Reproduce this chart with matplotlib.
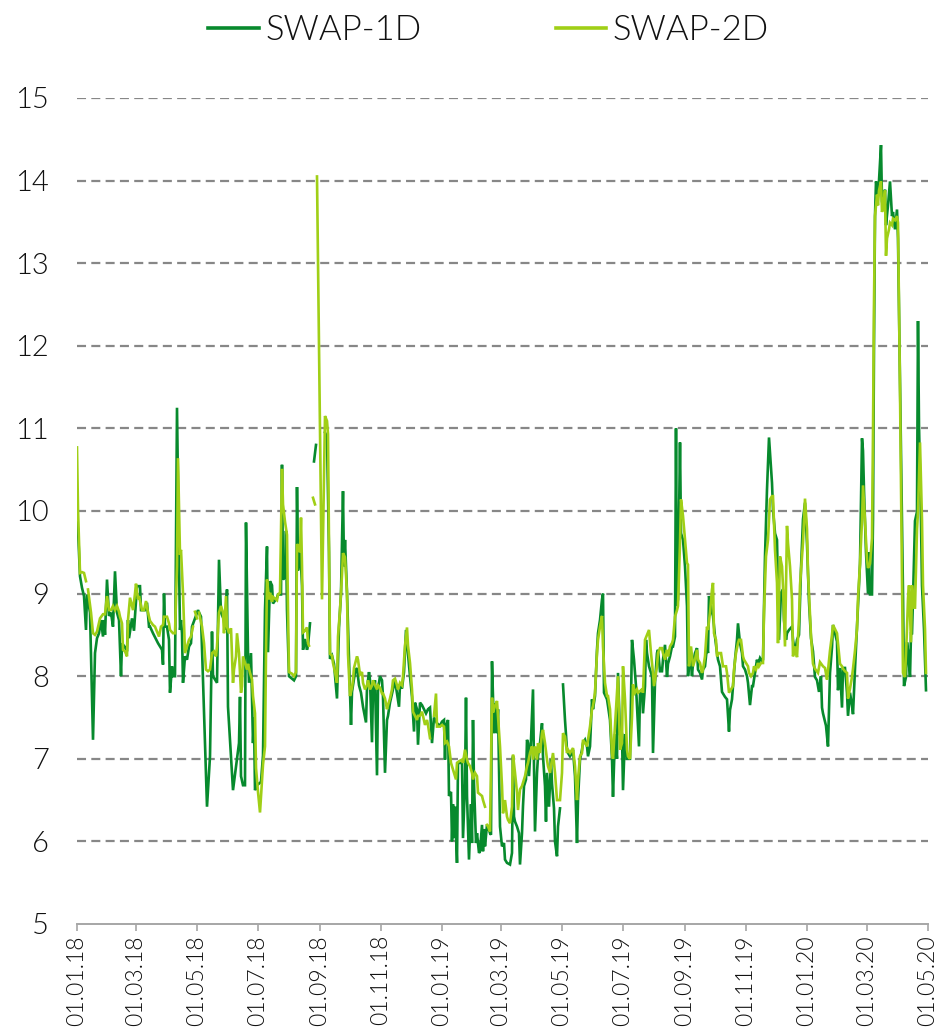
import numpy as np
import pandas as pd
import matplotlib
matplotlib.use("Agg")
import matplotlib.pyplot as plt

plt.rcParams['font.family'] = ['Lato', 'DejaVu Sans']
plt.rcParams['lines.scale_dashes'] = False

nan = np.nan
start = pd.Timestamp('2018-01-01')
end = pd.Timestamp('2020-05-01')

# (days since 01.01.18, rate) -- nan marks missing quotes
swap_1d_points = [
    (0, 9.86), (1, 9.78), (3, 9.21), (5, 9.07), (7, 8.97), (9, 8.56), (10, 8.99), (13, 8.77), (16, 7.23), (18, 8.28),
    (20, 8.46), (22, 8.52), (24, 8.68), (26, 8.48), (27, 8.68), (28, 8.50), (30, 9.17), (32, 8.73), (34, 8.77), (36, 8.60),
    (38, 9.27), (40, 8.77), (42, 8.68), (44, 8.00), (45, 8.40), (48, 8.35), (50, 8.30), (51, 8.68), (52, 8.46), (55, 8.70),
    (57, 8.55), (60, 9.09), (63, 9.09), (64, 8.80), (68, 8.80), (70, 8.89), (72, 8.60), (73, 8.60), (76, 8.52), (81, 8.40),
    (85, 8.32), (86, 8.14), (87, 9.00), (88, 8.60), (90, 8.60), (92, 8.44), (93, 7.80), (95, 8.12), (96, 8.00), (98, 8.00),
    (100, 11.25), (102, 9.37), (103, 8.56), (104, 8.68), (105, 8.52), (106, 7.92), (108, 8.24), (110, 8.20), (112, 8.36), (114, 8.40),
    (115, 8.60), (121, 8.80), (124, 8.72), (128, 7.17), (130, 6.42), (133, 7.03), (135, 8.54), (136, 8.00), (138, 7.96), (140, 7.92),
    (142, 9.41), (144, 8.77), (147, 8.68), (148, 8.56), (150, 9.05), (151, 7.63), (156, 6.62), (162, 7.19), (163, 7.75), (164, 6.79),
    (166, 6.68), (168, 6.68), (169, 9.86), (171, 8.28), (172, 7.92), (174, 8.28), (176, 7.19), (177, 7.50), (178, 6.62), (180, 6.68),
    (182, 6.70), (184, 6.72), (186, 7.04), (188, 8.80), (190, 9.57), (191, 8.29), (193, 9.15), (195, 9.10), (196, 8.88), (200, 8.95),
    (201, 8.99), (204, 8.99), (205, 10.56), (206, 9.17), (208, 9.20), (209, 9.76), (210, 8.80), (212, 8.00), (215, 7.97), (217, 7.95),
    (219, 8.00), (220, 10.29), (221, 9.28), (223, 9.60), (225, 9.10), (226, 8.32), (228, 8.45), (230, 8.32), (231, 8.37), (233, 8.64),
    (235, nan), (237, 10.60), (239, 10.80), (243, nan), (248, 10.95), (250, 10.90), (252, 9.50), (253, 8.21), (255, 8.25), (257, 8.15),
    (260, 7.73), (262, 8.59), (264, 9.00), (266, 10.24), (267, 9.33), (268, 9.65), (270, 9.01), (272, 8.20), (273, 7.84), (274, 7.41),
    (275, 7.81), (278, 8.05), (280, 8.10), (282, 7.89), (284, 7.80), (286, 7.63), (289, 7.44), (290, 7.85), (292, 8.05), (293, 7.95),
    (295, 7.20), (296, 7.84), (298, 7.95), (300, 6.80), (301, 7.84), (303, 8.00), (305, 7.95), (306, 7.75), (308, 6.83), (310, 7.47),
    (311, 7.52), (313, 7.68), (316, 7.84), (318, 7.95), (320, 7.79), (322, 7.63), (323, 7.90), (325, 7.85), (327, 8.05), (329, 8.56),
    (331, 8.27), (333, 8.00), (335, 7.75), (337, 7.33), (338, 7.68), (340, 7.60), (341, 7.17), (343, 7.68), (345, 7.65), (347, 7.60),
    (349, 7.55), (351, 7.60), (353, 7.62), (355, 7.19), (357, 7.50), (360, 7.43), (363, 7.40), (365, 7.45), (367, 7.47), (368, 6.99),
    (369, 7.40), (371, 7.47), (372, 6.55), (374, 6.60), (375, 6.00), (376, 6.45), (377, 6.04), (378, 6.42), (380, 5.74), (381, 6.95),
    (383, 6.95), (385, 6.95), (386, 6.04), (388, 6.70), (389, 7.74), (390, 6.55), (392, 5.78), (394, 6.45), (395, 5.98), (396, 7.47),
    (397, 6.70), (399, 5.98), (400, 6.10), (402, 5.86), (403, 5.88), (405, 6.20), (406, 5.88), (407, 6.15), (408, 5.94), (410, 6.20),
    (411, 6.18), (413, 6.10), (414, 6.08), (415, 8.18), (417, 7.31), (418, 7.67), (420, 7.31), (421, 7.60), (423, 6.18), (425, 5.94),
    (427, 5.98), (428, 5.78), (430, 5.74), (433, 5.72), (435, 5.86), (436, 7.03), (437, 6.30), (438, 6.24), (440, 6.18), (442, 6.10),
    (443, 5.72), (445, 6.10), (446, 6.43), (447, 6.67), (449, 6.75), (450, 7.23), (451, 7.19), (452, 6.79), (454, 7.23), (456, 7.84),
    (457, 6.91), (458, 6.12), (460, 6.83), (461, 7.03), (463, 7.19), (465, 7.43), (466, 7.03), (468, 6.67), (469, 6.24), (470, 6.83),
    (472, 6.42), (474, 6.99), (475, 6.70), (477, 6.40), (478, 6.00), (480, 5.82), (481, 6.18), (483, 6.40), (484, nan), (486, 7.90),
    (488, 7.47), (490, 7.11), (491, 7.07), (493, 7.03), (495, 7.07), (496, 7.11), (498, 6.79), (500, 5.98), (501, 6.50), (503, 6.99),
    (505, 7.11), (506, 7.19), (508, 7.23), (510, 7.15), (511, 7.03), (513, 7.15), (515, 7.72), (516, 7.60), (518, 7.76), (520, 8.32),
    (521, 8.52), (523, 8.68), (525, 8.93), (526, 9.00), (527, 7.80), (530, 7.72), (531, 7.64), (533, 7.47), (535, 7.00), (536, 6.54),
    (538, 7.30), (540, 7.00), (541, 8.04), (543, 7.30), (545, 7.30), (546, 6.62), (548, 7.30), (550, 7.00), (551, 7.00), (553, 7.00),
    (555, 8.44), (557, 8.20), (559, 7.88), (560, 7.63), (562, 7.15), (563, 7.80), (565, 7.84), (566, 7.55), (568, 7.88), (569, 8.44),
    (570, 8.28), (572, 8.12), (575, 8.00), (576, 7.07), (578, 7.92), (580, 8.28), (581, 8.32), (583, 8.06), (585, 8.06), (586, 8.20),
    (588, 8.38), (590, 7.99), (591, 8.15), (593, 8.24), (595, 8.36), (596, 8.36), (598, 8.48), (599, 11.00), (600, 8.85), (601, 8.93),
    (603, 10.83), (604, 9.73), (606, 9.65), (608, 9.33), (610, 8.85), (611, 8.00), (613, 8.28), (615, 8.00), (616, 8.16), (618, 8.28),
    (620, 8.34), (621, 8.08), (623, 8.04), (625, 7.96), (626, 8.08), (628, 8.12), (630, 8.36), (631, 8.28), (632, 8.97), (634, 8.85),
    (635, 8.77), (636, 8.73), (638, 8.48), (640, 8.28), (641, 8.20), (643, 8.12), (645, 7.81), (646, 7.79), (648, 7.75), (650, 7.72),
    (652, 7.33), (653, 7.59), (655, 7.72), (656, 7.88), (658, 8.20), (660, 8.44), (661, 8.64), (663, 8.40), (665, 8.28), (666, 8.12),
    (668, 8.08), (670, 8.00), (671, 7.92), (673, 7.65), (675, 7.88), (676, 7.88), (678, 8.04), (680, 8.20), (681, 8.14), (683, 8.22),
    (685, 8.18), (686, 8.20), (688, 9.45), (690, 10.26), (692, 10.89), (695, 10.34), (696, 10.02), (698, 9.73), (700, 9.65), (701, 9.05),
    (702, 8.44), (704, 9.01), (706, 9.05), (707, 8.68), (709, 8.44), (710, 8.52), (712, 8.56), (715, 8.60), (716, 8.44), (718, 8.28),
    (720, 8.44), (722, 8.50), (724, 9.30), (726, 9.90), (728, 10.10), (730, 9.60), (732, 8.90), (734, 8.46), (736, 8.30), (738, 7.99),
    (740, 7.95), (742, 7.81), (744, 8.00), (745, 7.62), (746, 7.55), (749, 7.40), (751, 7.15), (753, 8.04), (755, 8.35), (756, 8.62),
    (758, 8.52), (760, 8.42), (761, 7.83), (763, 8.10), (765, 7.62), (766, 8.10), (768, 8.10), (770, 7.80), (771, 7.52), (773, 7.80),
    (775, 7.64), (776, 7.54), (778, 8.09), (780, 8.60), (781, 8.83), (783, 9.36), (785, 10.88), (786, 10.73), (787, 10.25), (789, 9.50),
    (791, 9.00), (792, 9.50), (793, 8.99), (795, 8.99), (796, 9.90), (797, 12.00), (798, 13.57), (799, 13.99), (801, 13.83), (802, 14.00),
    (804, 14.43), (805, 13.75), (806, 13.68), (808, 13.89), (809, 13.46), (811, 13.70), (813, 13.99), (815, 13.57), (816, 13.62), (818, 13.41),
    (820, 13.65), (821, 13.30), (826, 9.00), (827, 7.88), (829, 7.99), (830, 8.41), (831, 8.31), (833, 7.99), (834, 8.52), (835, 8.52),
    (836, 8.94), (838, 9.88), (840, 9.99), (841, 12.30), (842, 11.04), (844, 9.88), (845, 9.10), (847, 8.57), (849, 7.83),
]

swap_2d_points = [
    (0, 10.77), (1, 10.02), (3, 9.25), (5, 9.26), (7, 9.25), (9, 9.15), (10, nan), (11, 9.05), (14, 8.77), (16, 8.52),
    (18, 8.50), (20, 8.54), (23, 8.70), (26, 8.75), (28, 8.75), (30, 8.97), (32, 8.80), (34, 8.80), (36, 8.85), (38, 8.80),
    (40, 8.85), (42, 8.78), (43, 8.72), (45, 8.64), (46, 8.32), (48, 8.30), (50, 8.24), (51, 8.68), (53, 8.95), (55, 8.85),
    (56, 8.80), (58, 9.00), (59, 9.12), (61, 8.93), (62, 8.97), (65, 8.80), (67, 8.80), (69, 8.91), (71, 8.77), (73, 8.67),
    (76, 8.62), (78, 8.60), (80, 8.54), (82, 8.48), (84, 8.60), (86, 8.62), (87, 8.72), (90, 8.72), (92, 8.64), (93, 8.56),
    (96, 8.52), (98, 8.52), (100, 9.33), (101, 10.64), (103, 9.47), (104, 9.53), (106, 9.00), (108, 8.28), (110, 8.36), (112, 8.44),
    (114, 8.48), (116, 8.60), (117, nan), (118, 8.78), (120, 8.70), (121, nan), (122, 8.77), (125, 8.60), (127, 8.40), (129, 8.08),
    (131, 8.06), (133, 8.08), (135, 8.28), (137, 8.30), (139, 8.24), (140, 8.36), (142, 8.77), (144, 8.85), (146, 8.77), (147, 8.52),
    (149, 8.97), (150, 8.60), (152, 8.52), (154, 8.58), (156, 7.92), (157, 8.08), (159, 8.24), (160, 8.52), (162, 8.28), (164, 7.80),
    (165, 7.88), (166, 8.24), (168, 8.16), (170, 8.08), (171, 8.15), (173, 8.04), (175, 7.96), (176, 7.76), (178, 7.55), (179, 6.89),
    (181, 6.60), (183, 6.35), (186, 6.93), (188, 7.15), (189, 8.27), (190, 9.17), (192, 8.93), (193, 9.01), (195, 8.90), (196, 8.96),
    (198, 8.94), (200, 8.92), (201, 8.99), (203, 9.01), (205, 10.51), (206, 10.08), (208, 9.87), (210, 9.71), (211, 8.80), (212, 8.05),
    (215, 8.03), (217, 8.00), (219, 8.05), (220, 9.60), (222, 9.55), (223, 9.50), (224, 9.92), (225, 9.33), (226, 8.53), (228, 8.55),
    (230, 8.59), (231, 8.40), (232, 8.37), (234, nan), (236, 10.16), (238, 10.08), (239, nan), (240, 14.05), (245, 8.93), (248, 11.15),
    (250, 11.09), (251, 10.93), (253, 8.27), (255, 8.25), (256, 8.16), (258, 8.05), (260, 7.92), (261, 8.48), (263, 8.80), (265, 9.23),
    (266, 9.49), (268, 9.44), (270, 9.01), (271, 8.27), (273, 7.76), (275, 7.86), (276, 7.95), (277, 8.10), (280, 8.24), (281, 8.20),
    (283, 8.02), (285, 8.05), (286, 7.92), (288, 7.84), (290, 7.89), (291, 7.95), (293, 7.84), (295, 7.89), (296, 7.95), (298, 7.89),
    (300, 7.84), (301, 7.89), (303, 7.86), (305, 7.79), (306, 7.79), (308, 7.73), (310, 7.60), (311, 7.65), (313, 7.73), (315, 7.84),
    (316, 7.95), (318, 7.97), (320, 7.89), (321, 7.84), (323, 7.92), (325, 7.89), (326, 8.00), (328, 8.37), (330, 8.59), (331, 8.37),
    (333, 8.16), (335, 7.84), (336, 7.57), (338, 7.52), (340, 7.47), (341, 7.52), (343, 7.52), (345, 7.57), (346, 7.52), (348, 7.41),
    (350, 7.47), (351, 7.41), (353, 7.25), (355, nan), (357, 7.52), (359, 7.79), (360, 7.39), (363, 7.39), (365, 7.41), (367, 7.39),
    (368, 7.19), (370, 7.21), (372, 7.15), (374, 6.95), (375, 6.91), (377, 6.83), (379, 6.75), (380, 6.95), (382, 6.97), (385, 6.99),
    (386, 6.95), (388, 7.11), (390, 6.99), (391, 6.95), (393, 6.91), (395, 6.83), (396, 6.75), (398, 6.83), (400, 6.79), (401, 6.59),
    (403, 6.57), (405, 6.55), (406, 6.50), (408, 6.42), (409, nan), (410, 6.20), (411, 6.18), (413, 6.12), (415, 7.74), (416, 7.56),
    (418, 7.64), (420, 7.70), (421, 7.52), (423, 7.15), (425, 6.67), (426, 6.34), (428, 6.50), (430, 6.30), (431, 6.26), (433, 6.22),
    (435, 6.42), (436, 7.05), (438, 6.83), (440, 6.59), (441, 6.38), (443, 6.63), (445, 6.67), (446, 6.71), (448, 6.79), (450, 6.91),
    (451, 6.95), (453, 7.07), (455, 7.15), (456, 6.99), (458, 7.15), (460, 6.99), (461, 7.19), (463, 7.07), (465, 7.31), (466, 7.35),
    (468, 7.19), (470, 6.99), (471, 6.91), (473, 6.83), (475, 6.99), (476, 7.07), (478, 6.83), (480, 6.50), (481, 6.50), (483, 6.50),
    (485, 6.83), (486, 7.31), (488, 7.27), (490, 7.07), (491, 7.11), (493, 7.07), (495, 7.11), (496, 7.13), (498, 6.91), (500, 6.50),
    (501, 6.75), (503, 7.03), (505, 7.07), (506, 7.23), (508, 7.19), (510, 7.15), (511, 7.23), (513, 7.39), (515, 7.60), (516, 7.64),
    (518, 7.80), (520, 8.28), (521, 8.44), (523, 8.60), (525, 8.73), (526, 8.36), (528, 7.92), (530, 7.76), (531, 7.76), (533, 7.60),
    (535, 7.07), (536, 7.00), (538, 7.40), (540, 7.80), (541, 8.00), (543, 7.11), (545, 7.19), (546, 8.12), (548, 7.72), (550, 7.11),
    (551, 7.03), (553, 7.00), (555, 7.51), (556, 7.90), (558, 7.80), (560, 7.84), (561, 7.80), (563, 7.82), (565, 7.84), (566, 7.80),
    (568, 8.44), (570, 8.50), (572, 8.56), (574, 8.28), (576, 8.04), (577, 7.88), (580, 8.12), (581, 8.28), (583, 8.34), (585, 8.34),
    (586, 8.28), (588, 8.20), (590, 8.32), (591, 8.24), (593, 8.36), (595, 8.40), (596, 8.44), (598, 8.72), (600, 8.80), (601, 8.85),
    (603, 9.61), (604, 10.14), (606, 9.94), (608, 9.65), (610, 9.37), (611, 9.35), (612, 8.12), (614, 8.36), (616, 8.12), (618, 8.20),
    (620, 8.32), (621, 8.20), (623, 8.16), (625, 8.04), (626, 8.08), (628, 8.24), (630, 8.60), (631, 8.56), (633, 8.77), (635, 9.05),
    (636, 9.13), (637, 8.52), (639, 8.44), (640, 8.24), (642, 8.28), (644, 8.28), (646, 8.12), (647, 8.12), (649, 8.12), (650, 8.04),
    (652, 7.80), (654, 7.84), (656, 7.88), (657, 8.08), (659, 8.28), (661, 8.40), (662, 8.44), (664, 8.44), (666, 8.24), (667, 8.20),
    (669, 8.16), (671, 8.12), (672, 8.04), (674, 8.00), (676, 8.04), (677, 8.12), (679, 8.08), (681, 8.16), (682, 8.12), (684, 8.16),
    (686, 8.16), (687, 8.77), (689, 9.45), (691, 9.65), (693, 10.14), (695, 10.18), (696, 10.18), (698, 9.53), (700, 9.13), (701, 8.40),
    (703, 9.45), (705, 9.33), (706, 9.09), (708, 8.36), (710, 9.82), (711, 9.61), (713, 9.33), (715, 8.93), (716, 8.24), (718, 8.36),
    (720, 8.23), (722, 8.70), (723, 9.10), (726, 9.62), (728, 10.15), (730, 9.78), (731, 9.25), (734, 8.49), (736, 8.15), (738, 8.09),
    (741, 8.04), (743, 8.17), (746, 8.12), (748, 8.10), (750, 7.96), (751, 8.07), (753, 8.31), (755, 8.50), (756, 8.62), (758, 8.57),
    (760, 8.52), (761, 8.40), (763, 8.15), (765, 8.12), (766, 8.09), (768, 8.06), (770, 8.04), (771, 7.73), (773, 7.85), (775, 7.99),
    (776, 8.09), (778, 8.31), (780, 8.57), (781, 8.94), (783, 9.36), (785, 9.88), (786, 10.31), (788, 9.88), (790, 9.41), (791, 9.31),
    (793, 9.36), (795, 9.67), (796, 10.94), (797, 12.52), (798, 13.57), (800, 13.83), (801, 13.70), (802, 13.88), (804, 13.99), (805, 13.62),
    (806, 13.67), (808, 13.88), (809, 13.09), (810, 13.30), (812, 13.41), (813, 13.49), (815, 13.46), (816, 13.54), (818, 13.52), (820, 13.57),
    (821, 13.49), (823, 11.46), (826, 8.04), (828, 7.99), (830, 8.57), (831, 8.94), (832, 9.10), (834, 8.41), (835, 9.10), (837, 8.83),
    (838, 8.83), (840, 9.78), (841, 9.99), (843, 10.83), (845, 9.88), (846, 9.10), (848, 8.57), (849, 8.04),
]

series_names = ['SWAP-1D', 'SWAP-2D']
series_colors = ['#078a2d', '#a0cf16']
y_ticks = list(range(5, 16))
tick_dates = pd.date_range('2018-01-01', '2020-05-01', freq='2MS')
tick_labels = [d.strftime('%d.%m.%y') for d in tick_dates]

TEXT_COLOR = '#111111'
TEXT_WEIGHT = 300


def to_xy(points):
    days, vals = zip(*points)
    dates = start + pd.to_timedelta(np.array(days), unit='D')
    return dates, np.array(vals, dtype=float)


fig = plt.figure(figsize=(9.4, 10.34), dpi=100)
ax = fig.add_axes([77 / 940, 1 - 924 / 1034, 851 / 940, 826 / 1034])

for pts, name, col in zip([swap_1d_points, swap_2d_points], series_names, series_colors):
    x, y = to_xy(pts)
    ax.plot(x, y, color=col, lw=1.9, label=name, solid_joinstyle='miter')

ax.set_xlim(start, end)
ax.set_ylim(5, 15)
ax.set_yticks(y_ticks)
ax.set_yticklabels([str(t) for t in y_ticks], fontsize=21, fontweight=TEXT_WEIGHT,
                   color=TEXT_COLOR)
ax.set_xticks(tick_dates)
ax.set_xticklabels(tick_labels, rotation=90, fontsize=16.5, fontweight=TEXT_WEIGHT,
                   color=TEXT_COLOR)

ax.set_axisbelow(True)
for yv in y_ticks[1:]:
    ax.axhline(yv, color='#878787', lw=1.6, dashes=(6.5, 3.8), zorder=0)

for s in ['top', 'right', 'left']:
    ax.spines[s].set_visible(False)
ax.spines['bottom'].set_color('#a6a6a6')
ax.spines['bottom'].set_linewidth(1.4)

ax.tick_params(axis='y', length=0, pad=20)
ax.tick_params(axis='x', length=5, width=1.2, color='#a6a6a6', pad=3)

leg = fig.legend(loc='center', bbox_to_anchor=(0.52, 1 - 30 / 1034), ncol=2,
                 frameon=False, handlelength=1.45, handletextpad=0.2,
                 columnspacing=3.85,
                 prop={'family': ['Lato', 'DejaVu Sans'], 'size': 25,
                       'weight': TEXT_WEIGHT})
for t in leg.get_texts():
    t.set_color(TEXT_COLOR)
for h in leg.get_lines():
    h.set_linewidth(2.6)

fig.savefig('out.png', dpi=100)
